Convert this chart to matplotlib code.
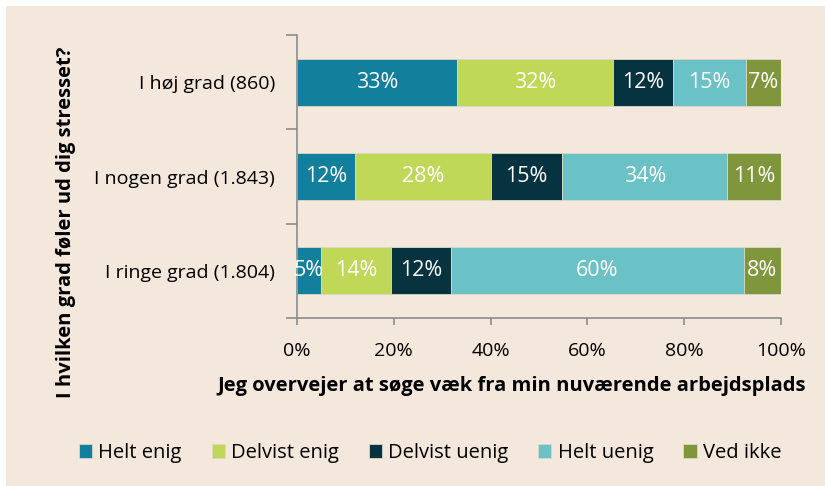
"""Stacked horizontal bar chart: stress vs. thoughts of leaving the workplace."""

import matplotlib

matplotlib.use("Agg")
import matplotlib.pyplot as plt
import numpy as np
from matplotlib.patches import Rectangle

plt.rcParams["font.family"] = ["Open Sans", "DejaVu Sans"]

categories = ["I høj grad (860)", "I nogen grad (1.843)", "I ringe grad (1.804)"]
series_names = ["Helt enig", "Delvist enig", "Delvist uenig", "Helt uenig", "Ved ikke"]

# segment widths (percent), and the printed labels
helt_enig = [33.1, 12.0, 5.0]
delvist_enig = [32.2, 28.1, 14.5]
delvist_uenig = [12.4, 14.7, 12.3]
helt_uenig = [15.1, 34.1, 60.5]
ved_ikke = [7.2, 11.1, 7.7]

helt_enig_lbl = [33, 12, 5]
delvist_enig_lbl = [32, 28, 14]
delvist_uenig_lbl = [12, 15, 12]
helt_uenig_lbl = [15, 34, 60]
ved_ikke_lbl = [7, 11, 8]

colors = ["#127f9c", "#bfd857", "#073341", "#6ac2c6", "#7f963d"]
background = "#f4e8dc"
fs = 14
fs_big = 14.5

values = [helt_enig, delvist_enig, delvist_uenig, helt_uenig, ved_ikke]
labels = [helt_enig_lbl, delvist_enig_lbl, delvist_uenig_lbl, helt_uenig_lbl, ved_ikke_lbl]

fig = plt.figure(figsize=(8.25, 4.86), dpi=100, facecolor="white")
fig.patches.append(
    Rectangle((6 / 825, 0), 1, 1 - 6 / 486, transform=fig.transFigure,
              facecolor=background, edgecolor="none", zorder=-10)
)

ax = fig.add_axes([297 / 825, 1 - 318 / 486, 484 / 825, 283 / 486])
ax.set_facecolor("none")

y = np.arange(len(categories))
left = np.zeros(len(categories))
for name, vals, lbls, color in zip(series_names, values, labels, colors):
    vals = np.array(vals)
    ax.barh(y, vals, left=left, height=0.5, color=color, label=name,
            edgecolor="#d9d9c8", linewidth=0.6)
    for yi, (l, v, t) in enumerate(zip(left, vals, lbls)):
        ax.text(l + v / 2, yi, f"{t}%", ha="center", va="center",
                color="white", fontsize=15.5)
    left += vals

ax.set_xlim(0, 100)
ax.set_ylim(2.5, -0.5)

ax.set_xticks(np.arange(0, 101, 20))
ax.set_xticklabels([f"{v}%" for v in range(0, 101, 20)], fontsize=fs)
ax.set_yticks(np.arange(-0.5, 2.6, 1))
ax.set_yticklabels([])
ax.set_yticks(y, minor=True)
ax.set_yticklabels(categories, minor=True, fontsize=fs)

ax.tick_params(axis="y", which="major", length=8, color="#8c8c8c", width=1.2)
ax.tick_params(axis="y", which="minor", length=0, pad=16)
ax.tick_params(axis="x", length=5, color="#8c8c8c", width=1.2, pad=12)

for side in ["top", "right"]:
    ax.spines[side].set_visible(False)
for side in ["left", "bottom"]:
    ax.spines[side].set_color("#8c8c8c")
    ax.spines[side].set_linewidth(1.2)

fig.text(512 / 825, 1 - 386 / 486, "Jeg overvejer at søge væk fra min nuværende arbejdsplads",
         ha="center", va="center", fontsize=fs_big, fontweight="bold")
fig.text(66 / 825, 1 - 222 / 486, "I hvilken grad føler ud dig stresset?",
         ha="center", va="center", rotation=90, fontsize=fs_big, fontweight="bold")

fig.legend(*ax.get_legend_handles_labels(), loc="center", ncol=5,
           bbox_to_anchor=(430 / 825, 1 - 453 / 486), frameon=False,
           fontsize=fs_big, handlelength=0.65, handleheight=0.65,
           handletextpad=0.3, columnspacing=1.5)

fig.savefig("out.png", dpi=100, facecolor=fig.get_facecolor())
